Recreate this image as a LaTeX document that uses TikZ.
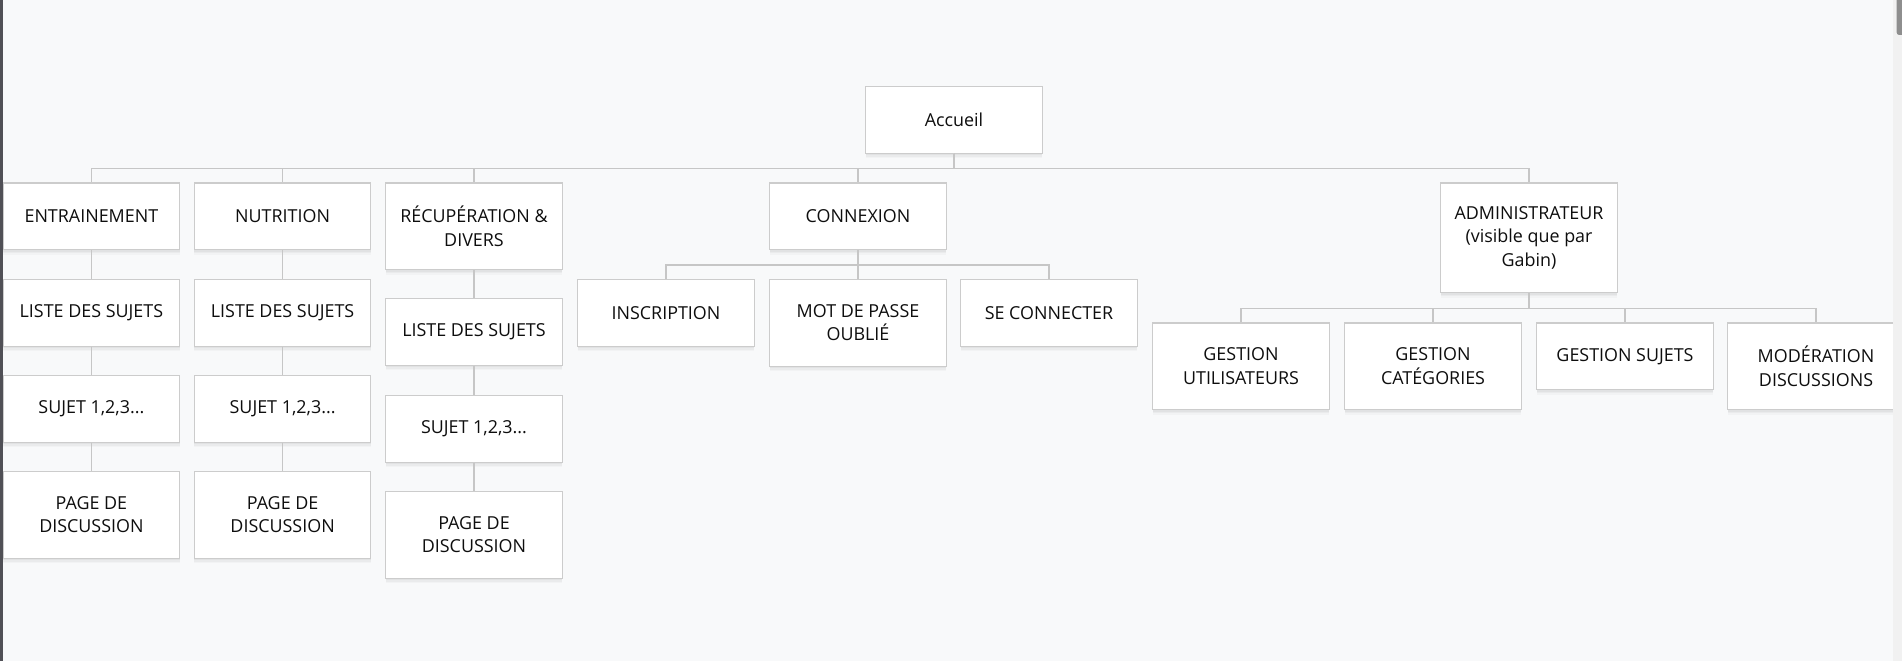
\documentclass[tikz,border=0pt]{standalone}
\usepackage{fontspec}
\setmainfont{Open Sans}
\usetikzlibrary{shadows}
\definecolor{bg}{HTML}{F8F9FA}
\definecolor{edgegray}{HTML}{CCCCCC}
\definecolor{wire}{HTML}{C6C6C6}
\definecolor{ink}{HTML}{0E0E0E}
\definecolor{sbtrack}{HTML}{F1F1F1}
\definecolor{sbthumb}{HTML}{8E8E8E}
\definecolor{leftbar}{HTML}{505056}
\tikzset{
  box/.style={draw=edgegray, line width=1.2pt, fill=white, minimum width=176.4pt,
    inner sep=0pt, align=center, text=ink, anchor=north,
    font=\fontsize{17.9}{23.3}\selectfont,
    general shadow={shadow xshift=0pt, shadow yshift=-5pt, fill=black, opacity=0.025},
    general shadow={shadow xshift=0pt, shadow yshift=-3.5pt, fill=black, opacity=0.03},
    general shadow={shadow xshift=0pt, shadow yshift=-2pt, fill=black, opacity=0.035}},
  one/.style={box, minimum height=66.6pt},
  two/.style={box, minimum height=86.6pt},
  three/.style={box, minimum height=109.8pt},
  conn/.style={draw=wire, line width=1.3pt}
}
\begin{document}
\begin{tikzpicture}[x=1pt,y=-1pt]
\fill[bg] (0,0) rectangle (1902,661);
\useasboundingbox (0,0) rectangle (1902,661);
% root
\node[one] (acc) at (954,85.9) {Accueil};
% level 1
\node[one] (ent) at (91.4,182.3) {ENTRAINEMENT};
\node[one] (nut) at (282.6,182.3) {NUTRITION};
\node[two] (rec) at (474,182.3) {RÉCUPÉRATION \&\\DIVERS};
\node[one] (con) at (858,182.3) {CONNEXION};
\node[three] (adm) at (1529,182.3) {ADMINISTRATEUR\\(visible que par\\Gabin)};
% column 1
\node[one] (lis1) at (91.4,278.9) {LISTE DES SUJETS};
\node[one] (suj1) at (91.4,374.9) {SUJET 1,2,3...};
\node[two] (pag1) at (91.4,470.9) {PAGE DE\\DISCUSSION};
% column 2
\node[one] (lis2) at (282.6,278.9) {LISTE DES SUJETS};
\node[one] (suj2) at (282.6,374.9) {SUJET 1,2,3...};
\node[two] (pag2) at (282.6,470.9) {PAGE DE\\DISCUSSION};
% column 3
\node[one] (lis3) at (474,297.9) {LISTE DES SUJETS};
\node[one] (suj3) at (474,394.9) {SUJET 1,2,3...};
\node[two] (pag3) at (474,490.9) {PAGE DE\\DISCUSSION};
% connexion children
\node[one] (ins) at (666,278.9) {INSCRIPTION};
\node[two] (mdp) at (858,278.9) {MOT DE PASSE\\OUBLIÉ};
\node[one] (sec) at (1049,278.9) {SE CONNECTER};
% admin children
\node[two] (gu) at (1241,322.3) {GESTION\\UTILISATEURS};
\node[two] (gc) at (1433,322.3) {GESTION\\CATÉGORIES};
\node[one] (gs) at (1625,322.3) {GESTION SUJETS};
\node[two] (mod) at (1816,322.3) {MODÉRATION\\DISCUSSIONS};
% connectors
\foreach \c in {ent,nut,rec,con,adm}
  \draw[conn] (acc.south) -- ++(0,15) -| (\c.north);
\foreach \c in {ins,mdp,sec}
  \draw[conn] (con.south) -- ++(0,15) -| (\c.north);
\foreach \c in {gu,gc,gs,mod}
  \draw[conn] (adm.south) -- ++(0,15) -| (\c.north);
\draw[conn] (ent.south) -- (lis1.north);
\draw[conn] (lis1.south) -- (suj1.north);
\draw[conn] (suj1.south) -- (pag1.north);
\draw[conn] (nut.south) -- (lis2.north);
\draw[conn] (lis2.south) -- (suj2.north);
\draw[conn] (suj2.south) -- (pag2.north);
\draw[conn] (rec.south) -- (lis3.north);
\draw[conn] (lis3.south) -- (suj3.north);
\draw[conn] (suj3.south) -- (pag3.north);
% window edges
\fill[sbtrack] (1893.3,0) rectangle (1902,661);
\fill[sbthumb, rounded corners=2.5pt] (1896.7,-5) rectangle (1905,35);
\fill[leftbar] (0,0) rectangle (2.7,661);
\end{tikzpicture}
\end{document}
